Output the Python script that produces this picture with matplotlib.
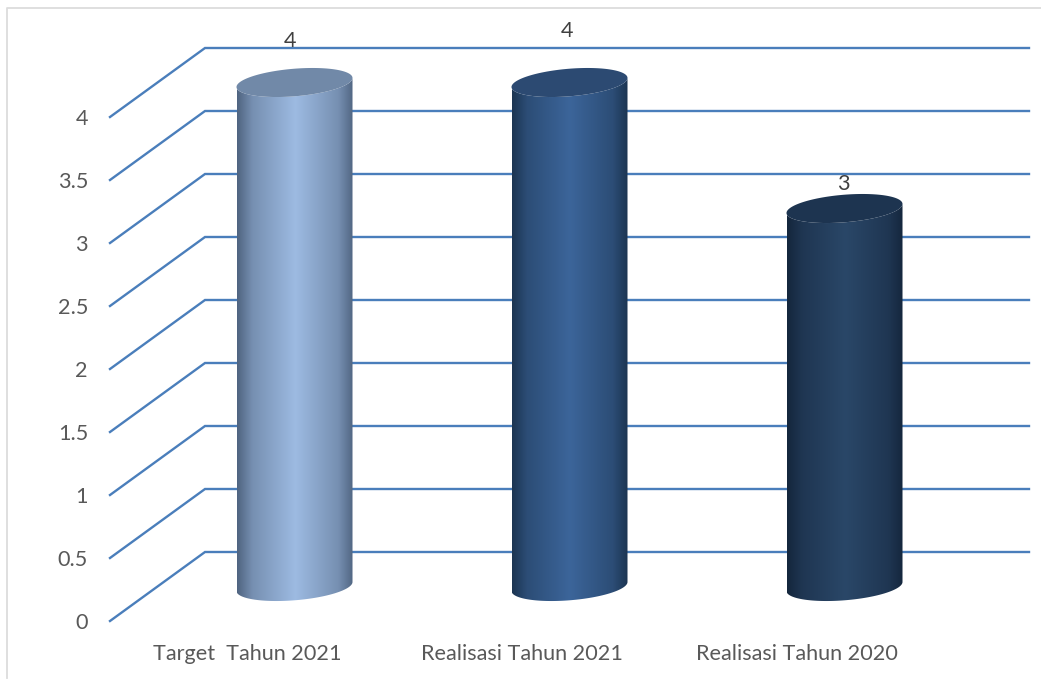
import numpy as np
import matplotlib
matplotlib.use("Agg")
import matplotlib.pyplot as plt
from matplotlib.colors import LinearSegmentedColormap
from matplotlib.patches import PathPatch
from matplotlib.path import Path

categories = ["Target  Tahun 2021", "Realisasi Tahun 2021", "Realisasi Tahun 2020"]
values = [4, 4, 3]
value_labels = ["4", "4", "3"]
ticks = [0, 0.5, 1, 1.5, 2, 2.5, 3, 3.5, 4]
tick_labels = ["0", "0.5", "1", "1.5", "2", "2.5", "3", "3.5", "4"]

side_colors = [("#4f6480", "#9dbbe2"), ("#1c3552", "#3c659a"), ("#14263c", "#2a4768")]
top_colors = ["#7189a8", "#2c4a72", "#1d3450"]
label_shift = [(43, 76), (45, 86), (46, 59)]

W, H = 1041, 681
FONT = "Lato"
FS = 15.6
TEXT = "#595959"
LINE = "#4a7ebb"
UNIT = 126.0        # px per value unit
SPACING = 275.0     # px per category
X0 = 247.0          # px of first category on the front plane
Y0 = 621.0          # px of value 0 on the front plane
DX, DY = 95.0, 69.0 # depth of the floor in px

fig = plt.figure(figsize=(W / 100, H / 100), dpi=100, facecolor="white")
ax = fig.add_axes([0, 0, 1, 1])
ax.set_xlim(-X0 / SPACING, (W - X0) / SPACING)
ax.set_ylim((Y0 - H) / UNIT, Y0 / UNIT)
ax.axis("off")

sx = 1 / SPACING
sy = 1 / UNIT

# chart frame
fig.add_artist(plt.Line2D([6.5 / W, 6.5 / W, 1], [3 / H, 1 - 7.5 / H, 1 - 7.5 / H],
                          color="#dcdcdc", lw=1.3))

# grid: side wall and back wall
x_front = (110 - X0) * sx
x_rear = x_front + DX * sx
x_end = (1029 - X0) * sx
for v, lab in zip(ticks, tick_labels):
    ax.plot([x_front, x_rear, x_end], [v, v + DY * sy, v + DY * sy],
            color=LINE, lw=1.7, solid_joinstyle="miter", zorder=1)
    ax.text((88 - X0) * sx, v - 2 * sy, lab, ha="right", va="center", fontsize=FS,
            family=FONT, color=TEXT)

# cylinders
half_w, b, shear = 58.0, 13.8, 0.078
t = np.linspace(0, 2 * np.pi, 240)
for i, (cat, val, lab) in enumerate(zip(categories, values, value_labels)):
    cx = i + (DX / 2) * sx
    base = (DY / 2) * sy
    top = base + val

    ex = half_w * np.cos(t) * sx
    ey = (shear * half_w * np.cos(t) + b * np.sin(t)) * sy

    low = np.linspace(np.pi, 2 * np.pi, 120)
    lx = cx + half_w * np.cos(low) * sx
    ly = base + (shear * half_w * np.cos(low) + b * np.sin(low)) * sy
    hx = cx + half_w * np.cos(low[::-1]) * sx
    hy = top + (shear * half_w * np.cos(low[::-1]) + b * np.sin(low[::-1])) * sy
    verts = np.column_stack([np.r_[lx, hx, lx[0]], np.r_[ly, hy, ly[0]]])
    codes = [Path.MOVETO] + [Path.LINETO] * (len(verts) - 2) + [Path.CLOSEPOLY]
    clip = PathPatch(Path(verts, codes), fc="none", ec="none", transform=ax.transData)
    ax.add_patch(clip)

    edge, mid = side_colors[i]
    cmap = LinearSegmentedColormap.from_list(
        "c", [(0, edge), (0.13, "#" + "".join(f"{(int(edge[j:j+2], 16) + int(mid[j:j+2], 16)) // 2:02x}" for j in (1, 3, 5))),
              (0.5, mid), (0.87, "#" + "".join(f"{(int(edge[j:j+2], 16) + int(mid[j:j+2], 16)) // 2:02x}" for j in (1, 3, 5))), (1, edge)])
    shade = np.linspace(0, 1, 256)
    im = ax.imshow(shade[None, :], cmap=cmap, vmin=0, vmax=1, aspect="auto", zorder=3,
                   extent=[cx - half_w * sx, cx + half_w * sx, base - 20 * sy, top + 20 * sy],
                   interpolation="bilinear")
    im.set_clip_path(clip)

    ax.fill(cx + ex, top + ey, color=top_colors[i], lw=0, zorder=4)

    ax.text(i + label_shift[i][0] * sx, val + label_shift[i][1] * sy, lab,
            ha="center", va="center", fontsize=FS, family=FONT, color="#404040", zorder=5)

    ax.text(i, (Y0 - 654) * sy, cat, ha="center", va="center", fontsize=FS,
            family=FONT, color=TEXT)

ax.set_xlim(-X0 / SPACING, (W - X0) / SPACING)
ax.set_ylim((Y0 - H) / UNIT, Y0 / UNIT)
fig.savefig("out.png", dpi=100)
